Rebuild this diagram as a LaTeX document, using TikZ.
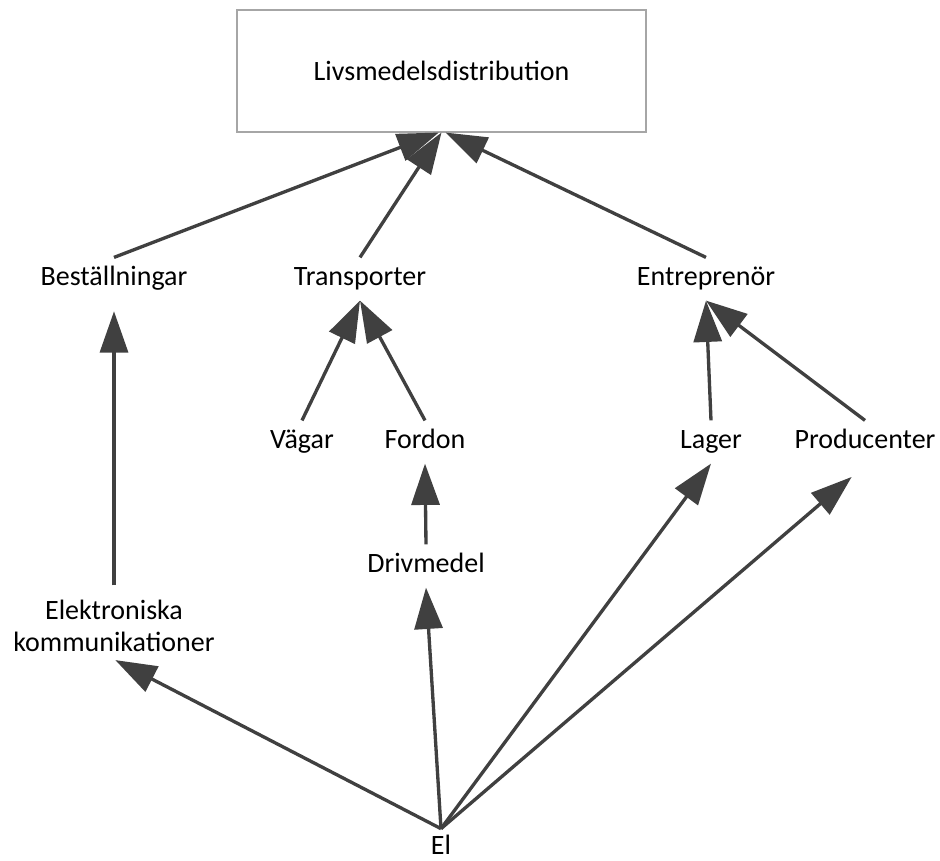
\documentclass[tikz,border=0pt]{standalone}
\usepackage{fontspec}
\setmainfont{Carlito}
\usetikzlibrary{arrows.meta,positioning}
\definecolor{linegray}{HTML}{404040}
\definecolor{framegray}{HTML}{A6A6A6}
\tikzset{
  font=\fontsize{21}{24}\selectfont,
  topbox/.style={
    draw=framegray,
    line width=0.8pt,
    align=center,
    minimum width=306.75pt,
    minimum height=91.5pt
  },
  item/.style={
    inner xsep=2pt,
    inner ysep=6pt,
    text height=15pt,
    text depth=5pt
  },
  twoline/.style={
    align=center,
    inner xsep=2pt,
    inner ysep=6pt
  },
  arrow/.style={
    draw=linegray,
    line width=2.5pt,
    -{Triangle[length=31pt,width=21pt]}
  }
}

\begin{document}
\begin{tikzpicture}[x=0.75pt,y=-0.75pt]
\useasboundingbox (0,0) rectangle (940,861);

% --- Top: goal
\node[topbox] (dist) at (441.5,71) {Livsmedelsdistribution};

% --- Second row
\node[item] (best) at (114,279) {Beställningar};
\node[item] (trans) at (360,279) {Transporter};
\node[item] (entr) at (706,279) {Entreprenör};

% --- Third row
\node[item] (vagar) at (302,442) {Vägar};
\node[item] (fordon) at (425,442) {Fordon};
\node[item] (lager) at (711,442) {Lager};
\node[item] (prod) at (865,442) {Producenter};

% --- Lower rows
\node[item] (driv) at (426,566) {Drivmedel};
\node[twoline] (elkom) at (114,626) {Elektroniska\\kommunikationer};
\node[item, inner ysep=1pt, text depth=0pt] (el) at (441,844) {El};

% --- Arrows
\draw[arrow] (best.north) -- ([xshift=-2pt]dist.south);
\draw[arrow] (trans.north) -- (dist.south);
\draw[arrow] (entr.north) -- ([xshift=3pt]dist.south);
\draw[arrow] (vagar.north) -- (trans.south);
\draw[arrow] (fordon.north) -- (trans.south);
\draw[arrow] (lager.north) -- (entr.south);
\draw[arrow] (prod.north) -- (entr.south);
\draw[arrow] ([yshift=5pt]elkom.north) -- ([yshift=-8pt]best.south);
\draw[arrow] (driv.north) -- (fordon.south);
\draw[arrow] ([yshift=2.8pt]el.north) -- ([xshift=1pt]elkom.south);
\draw[arrow] ([yshift=2.8pt]el.north) -- (driv.south);
\draw[arrow] ([yshift=2.8pt]el.north) -- (lager.south);
\draw[arrow] ([yshift=2.8pt]el.north) -- ([xshift=-10pt,yshift=-10pt]prod.south);

\end{tikzpicture}
\end{document}
